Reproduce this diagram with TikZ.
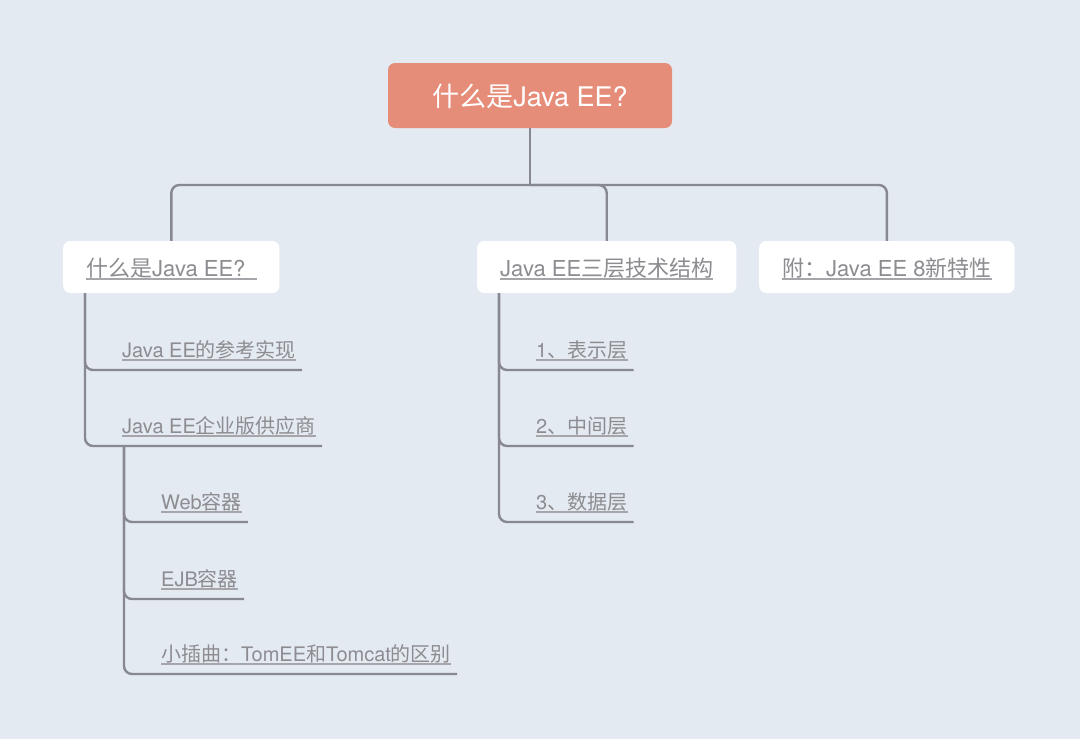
\documentclass[tikz,border=0pt]{standalone}
\usepackage{fontspec}
\setmainfont{TeX Gyre Heros}
\newfontfamily\cjk{Noto Sans CJK SC}
\definecolor{bg}{RGB}{228,234,241}
\definecolor{rootfill}{RGB}{230,141,122}
\definecolor{linec}{RGB}{135,136,145}
\definecolor{txt}{RGB}{140,140,145}
\definecolor{ulc}{RGB}{165,165,170}
\tikzset{
 conn/.style={draw=linec, line width=2.4pt, rounded corners=8pt},
 rootbox/.style={fill=rootfill, rounded corners=7pt, minimum width=284pt, minimum height=65pt, text=white, font=\fontsize{27}{31}\selectfont, text height=21pt, text depth=0pt, inner sep=0pt},
 topbox/.style={fill=white, rounded corners=7pt, minimum height=52pt, inner xsep=23pt, inner ysep=0pt, text=txt, font=\fontsize{22}{26}\selectfont, text height=18pt, text depth=0pt, anchor=west},
 leaf/.style={inner sep=0pt, text=txt, font=\fontsize{20}{24}\selectfont, anchor=base west},
 ul/.style={draw=ulc, line width=1.4pt},
}
\begin{document}
\begin{tikzpicture}[x=1pt,y=-1pt]
\fill[bg] (0,0) rectangle (1080,739);
\useasboundingbox (0,0) rectangle (1080,739);
% root
\node[rootbox] (root) at (530,95.5) {{\cjk 什么是}Java EE?};
% top-level boxes
\node[topbox] (b1) at (63,267) {{\cjk 什么是}Java EE?\kern11pt};
\node[topbox] (b2) at (477,267) {Java EE{\cjk 三层技术结构}};
\node[topbox] (b3) at (759,267) {{\cjk 附：}Java EE 8{\cjk 新特性}};
\foreach \b in {b1,b2,b3}{
  \draw[ul] ([xshift=23pt,yshift=-3pt]\b.base west) -- ([xshift=-23pt,yshift=-3pt]\b.base east);
}
% root connectors
\coordinate (j) at (530,185);
\draw[conn] (root.south) -- (j);
\draw[conn] (j) -| (b1.north);
\draw[conn] (j) -| (b2.north);
\draw[conn] (j) -| (b3.north);
% leaves
\node[leaf] (l11) at (122,357) {Java EE{\cjk 的参考实现}};
\node[leaf] (l12) at (122,433) {Java EE{\cjk 企业版供应商}};
\node[leaf] (l21) at (161,509) {Web{\cjk 容器}};
\node[leaf] (l22) at (161,586) {EJB{\cjk 容器}};
\node[leaf] (l23) at (161,661) {{\cjk 小插曲：}TomEE{\cjk 和}Tomcat{\cjk 的区别}};
\node[leaf] (m1) at (536,357) {1{\cjk 、表示层}};
\node[leaf] (m2) at (536,433) {2{\cjk 、中间层}};
\node[leaf] (m3) at (536,509) {3{\cjk 、数据层}};
\foreach \l in {l11,l12,l21,l22,l23,m1,m2,m3}{
  \draw[ul] ([yshift=-3pt]\l.base west) -- ([yshift=-3pt]\l.base east);
}
% branch connectors
\coordinate (v1) at ([xshift=22pt]b1.south west);
\coordinate (v2) at ([xshift=2pt,yshift=-13pt]l12.base west);
\coordinate (v3) at ([xshift=22pt]b2.south west);
\foreach \l in {l11,l12}{
  \draw[conn] (v1) |- ([xshift=6pt,yshift=-13pt]\l.base east);
}
\foreach \l in {l21,l22,l23}{
  \draw[conn] (v2) |- ([xshift=6pt,yshift=-13pt]\l.base east);
}
\foreach \l in {m1,m2,m3}{
  \draw[conn] (v3) |- ([xshift=6pt,yshift=-13pt]\l.base east);
}
\end{tikzpicture}
\end{document}
